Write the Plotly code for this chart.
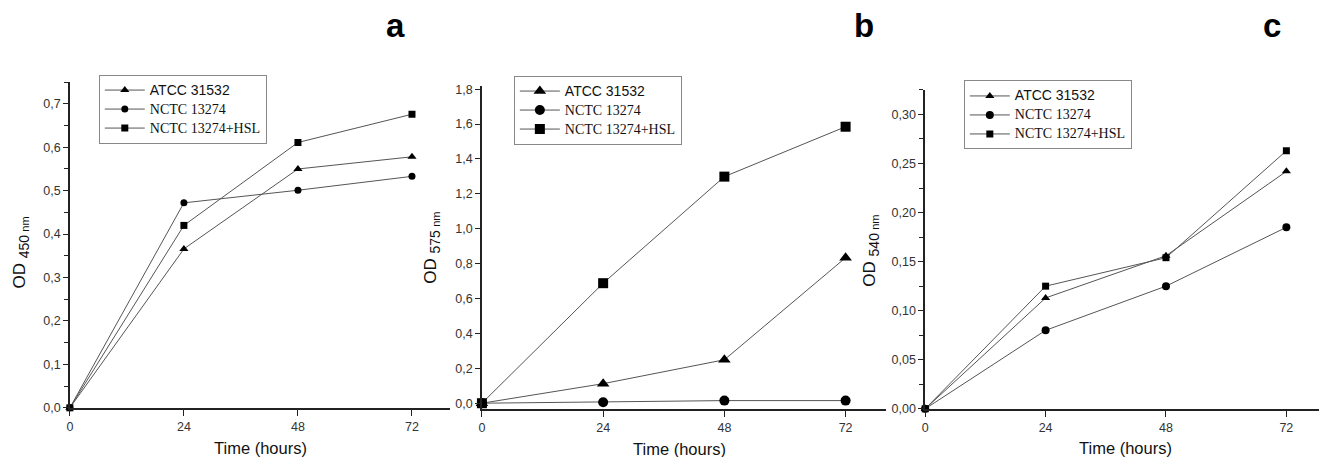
import plotly.graph_objects as go

# ---------------- data ----------------
hours = [0, 24, 48, 72]
series_names = ["ATCC 31532", "NCTC 13274", "NCTC 13274+HSL"]
symbols = ["triangle-up", "circle", "square"]

a_atcc = [0, 0.366, 0.550, 0.578]
a_nctc = [0, 0.472, 0.501, 0.533]
a_hsl = [0, 0.420, 0.611, 0.676]

b_atcc = [0, 0.112, 0.249, 0.834]
b_nctc = [0, 0.006, 0.015, 0.015]
b_hsl = [0, 0.688, 1.299, 1.585]

c_atcc = [0, 0.113, 0.156, 0.242]
c_nctc = [0, 0.080, 0.125, 0.185]
c_hsl = [0, 0.125, 0.154, 0.263]

panel_letters = ["a", "b", "c"]
y_titles = ["450", "575", "540"]
x_ticks = [0, 24, 48, 72]

# ---------------- figure ----------------
OFFX, OFFY = 8, 0
W, H = 1327 - OFFX, 457 - OFFY
SANS = "Liberation Sans, Arial, sans-serif"
legend_fonts = ["Liberation Sans", "Liberation Serif", "Liberation Serif"]

def px_x(p):
    return (p - OFFX) / W

def px_y(p):
    return 1 - (p - OFFY) / H

fig = go.Figure()

panels = [
    dict(data=[a_atcc, a_nctc, a_hsl], xdom=(67, 448), ydom=(405.7, 72.7), yr=[0, 0.75],
         fmt=".1f", dtick=0.1, minor=0.05, msize=[8, 7, 7], leg=(96, 65),
         ytitle=(18, 247), xtitle=(258, 447), letter=(393, 15)),
    dict(data=[b_atcc, b_nctc, b_hsl], xdom=(480, 885), ydom=(406.7, 76.4), yr=[-0.032, 1.82],
         fmt=".1f", dtick=0.2, minor=None, msize=[11, 10, 10], leg=(512, 66),
         ytitle=(430, 242), xtitle=(678, 448), letter=(863, 15)),
    dict(data=[c_atcc, c_nctc, c_hsl], xdom=(924.3, 1326.5), ydom=(406.7, 80.7), yr=[0, 0.325],
         fmt=".2f", dtick=0.05, minor=0.025, msize=[8, 8, 7], leg=(963, 71),
         ytitle=(870, 245), xtitle=(1125, 447), letter=(1272, 15)),
]

annotations = []
for i, p in enumerate(panels):
    n = i + 1
    xa = "x" if n == 1 else f"x{n}"
    ya = "y" if n == 1 else f"y{n}"
    lg = "legend" if n == 1 else f"legend{n}"
    for k, vals in enumerate(p["data"]):
        name = (f"<span style=\"font-size:14px;font-family:{legend_fonts[k]}\">"
                f"{series_names[k]}</span>")
        fig.add_trace(go.Scatter(
            x=hours, y=vals, name=name, mode="lines+markers",
            xaxis=xa, yaxis=ya, legend=lg, cliponaxis=False,
            line=dict(color="#555555", width=1),
            marker=dict(symbol=symbols[k], size=p["msize"][k], color="black"),
        ))
    xkey = "xaxis" if n == 1 else f"xaxis{n}"
    ykey = "yaxis" if n == 1 else f"yaxis{n}"
    yaxis = dict(
        domain=[px_y(p["ydom"][0]), px_y(p["ydom"][1])], range=p["yr"],
        anchor=xa, showline=True, linecolor="#222222", linewidth=1.5,
        showgrid=False, zeroline=False, ticks="outside", ticklen=5,
        tickcolor="#222222", tickwidth=1.2, tick0=0, dtick=p["dtick"],
        tickformat=p["fmt"], tickfont=dict(family=SANS, size=12.5, color="#333333"),
    )
    if p["minor"]:
        yaxis["minor"] = dict(ticks="outside", ticklen=4, dtick=p["minor"], tick0=0,
                              tickcolor="#222222", tickwidth=1.2, showgrid=False)
    fig.update_layout({
        xkey: dict(
            domain=[px_x(p["xdom"][0]), min(1.0, px_x(p["xdom"][1]))], range=[0, 80],
            anchor=ya, showline=True, linecolor="#222222", linewidth=1.5,
            showgrid=False, zeroline=False, ticks="outside", ticklen=6,
            tickcolor="#222222", tickwidth=1.2, tickvals=x_ticks,
            tickfont=dict(family=SANS, size=12.5, color="#333333"),
        ),
        ykey: yaxis,
        lg: dict(
            x=px_x(p["leg"][0]), y=px_y(p["leg"][1]), xanchor="left", yanchor="top",
            bordercolor="#888888", borderwidth=1, bgcolor="rgba(255,255,255,0)",
            font=dict(family=SANS, size=11.5, color="#111111"),
            itemwidth=40,
        ),
    })
    annotations.append(dict(
        text=(f"OD <sub><span style='font-size:14px'>{y_titles[i]}</span> "
              f"<span style='font-size:11px'>nm</span></sub>"),
        x=px_x(p["ytitle"][0]), y=px_y(p["ytitle"][1]), xref="paper", yref="paper",
        xanchor="center", yanchor="middle", textangle=-90, showarrow=False,
        font=dict(family=SANS, size=17, color="#111111"),
    ))
    annotations.append(dict(
        text="Time (hours)",
        x=px_x(p["xtitle"][0]), y=px_y(p["xtitle"][1]), xref="paper", yref="paper",
        xanchor="center", yanchor="middle", showarrow=False,
        font=dict(family=SANS, size=16.5, color="#111111"),
    ))
    annotations.append(dict(
        text=f"<b>{panel_letters[i]}</b>",
        x=px_x(p["letter"][0]), y=px_y(p["letter"][1]), xref="paper", yref="paper",
        xanchor="center", yanchor="middle", showarrow=False,
        font=dict(family=SANS, size=33, color="black"),
    ))

fig.update_layout(
    width=W, height=H, margin=dict(l=0, r=0, t=0, b=0),
    paper_bgcolor="white", plot_bgcolor="white",
    separators=", ", showlegend=True, annotations=annotations,
)

fig.write_html("out.html")
